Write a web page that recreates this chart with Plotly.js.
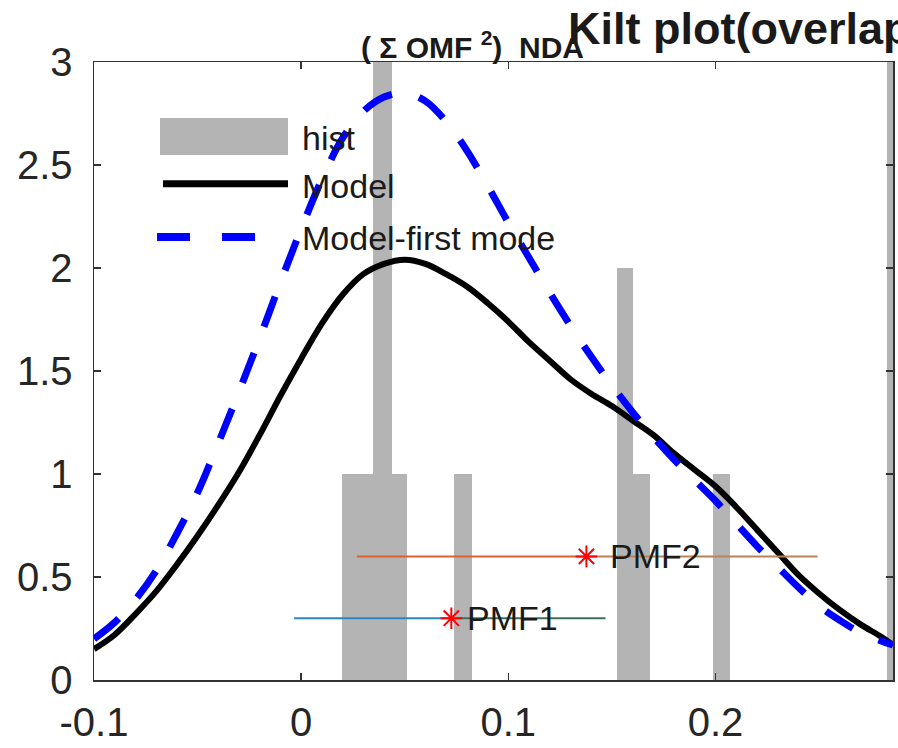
<!DOCTYPE html>
<html>
<head>
<meta charset="utf-8">
<script src="https://cdn.plot.ly/plotly-3.0.1.min.js"></script>
<style>html,body{margin:0;padding:0;background:#fff;}#chart{width:898px;height:748px;}</style>
</head>
<body>
<div id="chart"></div>
<script>
// ---- data ----
const histLeft  = [0.0198, 0.0348, 0.0739, 0.1527, 0.1604, 0.1990, 0.2830];
const histRight = [0.0512, 0.0440, 0.0826, 0.1604, 0.1686, 0.2068, 0.2900];
const histCount = [1, 3, 1, 2, 1, 1, 3];

const modelX = [-0.100, -0.090, -0.080, -0.070, -0.060, -0.050, -0.040, -0.030, -0.020, -0.010, 0.000, 0.010, 0.020, 0.030, 0.040, 0.050, 0.060, 0.070, 0.080, 0.090, 0.100, 0.110, 0.120, 0.130, 0.140, 0.150, 0.160, 0.170, 0.180, 0.190, 0.200, 0.210, 0.220, 0.230, 0.240, 0.250, 0.260, 0.270, 0.280, 0.2857];
const modelY = [0.15, 0.22, 0.32, 0.43, 0.56, 0.70, 0.85, 1.01, 1.19, 1.38, 1.56, 1.73, 1.87, 1.97, 2.02, 2.04, 2.02, 1.97, 1.91, 1.83, 1.74, 1.64, 1.55, 1.46, 1.39, 1.33, 1.26, 1.19, 1.10, 1.02, 0.94, 0.84, 0.73, 0.62, 0.51, 0.42, 0.34, 0.27, 0.21, 0.17];

const firstX = [-0.100, -0.090, -0.080, -0.070, -0.060, -0.050, -0.040, -0.030, -0.020, -0.010, 0.000, 0.010, 0.020, 0.030, 0.040, 0.050, 0.060, 0.070, 0.080, 0.090, 0.100, 0.110, 0.120, 0.130, 0.140, 0.150, 0.160, 0.170, 0.180, 0.190, 0.200, 0.210, 0.220, 0.230, 0.240, 0.250, 0.260, 0.270, 0.280, 0.2857];
const firstY = [0.20, 0.28, 0.39, 0.53, 0.71, 0.91, 1.15, 1.40, 1.66, 1.93, 2.19, 2.43, 2.63, 2.76, 2.83, 2.85, 2.81, 2.71, 2.57, 2.40, 2.22, 2.05, 1.88, 1.72, 1.57, 1.43, 1.30, 1.18, 1.07, 0.97, 0.87, 0.76, 0.65, 0.55, 0.45, 0.36, 0.29, 0.23, 0.19, 0.17];

const pmfLabel = ['PMF1', 'PMF2'];
const pmfMean  = [0.0725, 0.1377];
const pmfLow   = [-0.0034, 0.0270];
const pmfHigh  = [0.1469, 0.2493];
const pmfY     = [0.3, 0.6];

const xTickVals = [-0.1, 0, 0.1, 0.2];
const xTickText = ['-0.1', '0', '0.1', '0.2'];
const yTickVals = [0, 0.5, 1, 1.5, 2, 2.5, 3];
const yTickText = ['0', '0.5', '1', '1.5', '2', '2.5', '3'];

const legendNames = ['hist', 'Model', 'Model-first mode'];

// ---- traces ----
const FONT = 'Liberation Sans, Arial, Helvetica, sans-serif';
const traces = [];
traces.push({
  type: 'bar',
  x: histLeft.map((l, i) => (l + histRight[i]) / 2),
  width: histLeft.map((l, i) => histRight[i] - l),
  y: histCount,
  marker: {color: '#b4b4b4', line: {width: 0}},
  showlegend: false, hoverinfo: 'skip'
});
traces.push({
  type: 'scatter', mode: 'lines', x: modelX, y: modelY,
  line: {color: '#000000', width: 6, shape: 'spline', smoothing: 1},
  showlegend: false
});
traces.push({
  type: 'scatter', mode: 'lines', x: firstX, y: firstY,
  line: {color: '#0000ff', width: 7, dash: '32px,28px', shape: 'spline', smoothing: 1},
  showlegend: false
});
const lowColors = ['#2a86c8', '#d9622b'];
const highColors = ['#3d6f5c', '#b98258'];
pmfLabel.forEach((lab, i) => {
  traces.push({type: 'scatter', mode: 'lines', x: [pmfLow[i], pmfMean[i]], y: [pmfY[i], pmfY[i]],
    line: {color: lowColors[i], width: 2}, showlegend: false});
  traces.push({type: 'scatter', mode: 'lines', x: [pmfMean[i], pmfHigh[i]], y: [pmfY[i], pmfY[i]],
    line: {color: highColors[i], width: 2}, showlegend: false});
});
traces.push({
  type: 'scatter', mode: 'markers', x: pmfMean, y: pmfY,
  marker: {symbol: 'asterisk-open', size: 18, color: '#ff0000', line: {color: '#ff0000', width: 2}},
  showlegend: false
});

// ---- annotations ----
const labelShift = [14, 22];
const annotations = pmfLabel.map((lab, i) => ({
  x: pmfMean[i], y: pmfY[i], xref: 'x', yref: 'y', text: lab, showarrow: false,
  xanchor: 'left', yanchor: 'middle', xshift: labelShift[i], font: {family: FONT, size: 34, color: '#1a1a1a'}
}));
// title pieces (overlapping, as in the reference)
annotations.push({xref: 'paper', yref: 'paper', x: 0.332, y: 1, xanchor: 'left', yanchor: 'bottom', yshift: -4,
  text: '<b>(&nbsp;Σ&nbsp;OMF&nbsp;<sup>2</sup>)&nbsp;&nbsp;NDA</b>', showarrow: false, font: {family: FONT, size: 30, color: '#1a1a1a'}});
annotations.push({xref: 'paper', yref: 'paper', x: 0.591, y: 1, xanchor: 'left', yanchor: 'bottom', yshift: 6,
  text: '<b>Kilt plot(overlap)</b>', showarrow: false, font: {family: FONT, size: 45, color: '#1a1a1a'}});
// legend text
const legY = [0.877, 0.799, 0.715];
legendNames.forEach((n, i) => annotations.push({
  xref: 'paper', yref: 'paper', x: 0.2578, y: legY[i], xanchor: 'left', yanchor: 'middle',
  text: n, showarrow: false, font: {family: FONT, size: 34, color: '#1a1a1a'}
}));

// legend swatches
const shapes = [
  {type: 'rect', xref: 'paper', yref: 'paper', x0: 0.0826, x1: 0.2428, y0: 0.8495, y1: 0.9094,
    fillcolor: '#b4b4b4', line: {width: 0}},
  {type: 'line', xref: 'paper', yref: 'paper', x0: 0.0864, x1: 0.2428, y0: legY[1] + 0.004, y1: legY[1] + 0.004,
    line: {color: '#000000', width: 7}},
  {type: 'line', xref: 'paper', yref: 'paper', x0: 0.0789, x1: 0.2052, y0: legY[2] + 0.002, y1: legY[2] + 0.002,
    line: {color: '#0000ff', width: 8, dash: '33px,32px'}}
];

const axisCommon = {
  showline: true, linecolor: '#333333', linewidth: 1.5, mirror: 'ticks',
  ticks: 'inside', ticklen: 7, tickwidth: 1.5, tickcolor: '#333333',
  showgrid: false, zeroline: false,
  tickfont: {family: FONT, size: 40, color: '#262626'}
};

const layout = {
  width: 898, height: 748,
  margin: {l: 94, r: 5, t: 62, b: 68, pad: 0},
  paper_bgcolor: '#ffffff', plot_bgcolor: '#ffffff',
  barmode: 'overlay', bargap: 0,
  showlegend: false,
  xaxis: Object.assign({}, axisCommon, {range: [-0.1, 0.2857], tickmode: 'array', tickvals: xTickVals, ticktext: xTickText, ticklabelstandoff: 6}),
  yaxis: Object.assign({}, axisCommon, {range: [0, 3], tickmode: 'array', tickvals: yTickVals, ticktext: yTickText, ticklabelstandoff: 12}),
  annotations: annotations,
  shapes: shapes
};

Plotly.newPlot('chart', traces, layout, {displayModeBar: false, staticPlot: true});
</script>
</body>
</html>
